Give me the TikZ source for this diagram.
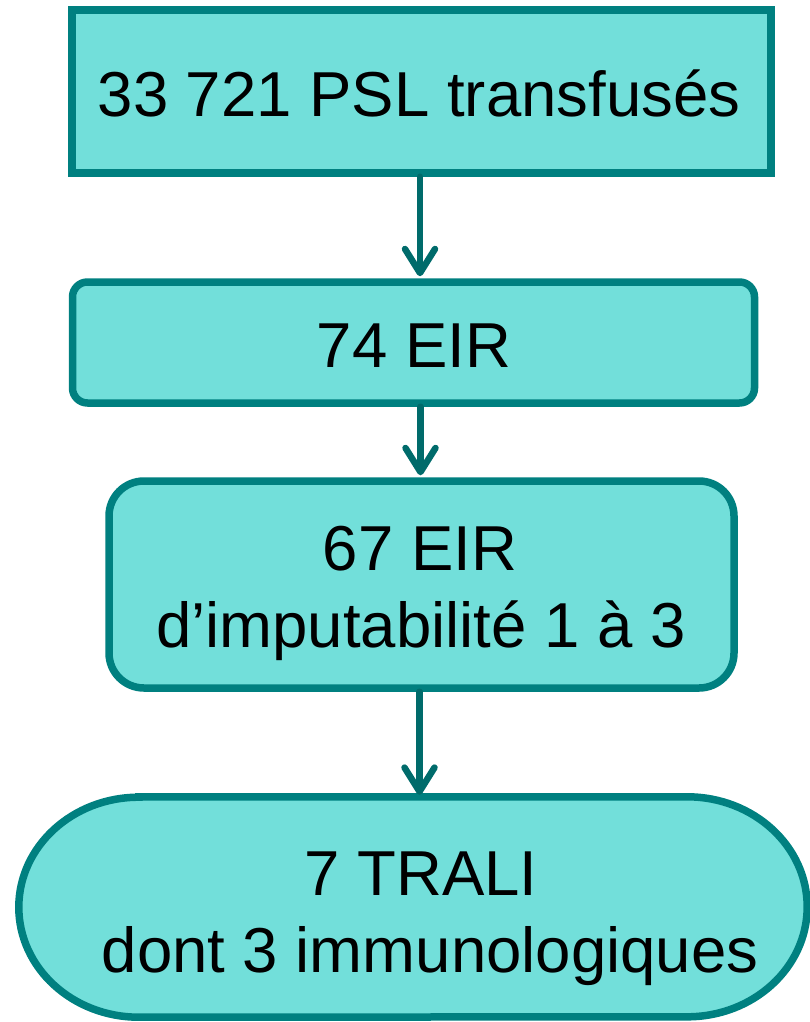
\documentclass[tikz,border=0pt]{standalone}
\usepackage{fontspec}
\setmainfont{Liberation Sans}
\usetikzlibrary{arrows.meta,calc}
\definecolor{boxfill}{HTML}{72DFDA}
\definecolor{boxline}{HTML}{008080}
\definecolor{arrline}{HTML}{006B6B}
\begin{document}
\begin{tikzpicture}[x=1pt,y=-1pt,
  box/.style={draw=boxline,fill=boxfill,line width=7.5pt,inner sep=0pt},
  txt/.style={anchor=base,inner sep=0pt,font=\fontsize{63.5}{76}\selectfont,text=black},
  arr/.style={draw=arrline,line width=6.5pt,line cap=round,
    -{Straight Barb[length=24pt,width=30pt,line cap=round,line join=round]}}]
\useasboundingbox (0,0) rectangle (810,1022);
% boxes
\node[box,minimum width=699pt,minimum height=163pt] (b1) at (421.5,91.5) {};
\node[box,rounded corners=15pt,minimum width=682pt,minimum height=121pt] (b2) at (413.5,342.5) {};
\node[box,rounded corners=35pt,minimum width=625pt,minimum height=207pt] (b3) at (421.5,584.5) {};
\node[inner sep=0pt,minimum width=788pt,minimum height=220pt] (b4) at (413,907) {};
\draw[box] ($(b4.north west)+(120,0)$) -- ($(b4.north east)+(-120,0)$)
  arc[start angle=90,end angle=-90,x radius=120pt,y radius=110pt]
  -- ($(b4.south west)+(120,0)$)
  arc[start angle=270,end angle=90,x radius=120pt,y radius=110pt] -- cycle;
% texts
\node[txt] (t1) at (419,117) {33 721 PSL transfusés};
\node[txt] (t2) at (414,367) {74 EIR};
\node[txt] (t3a) at (420,570) {67 EIR};
\node[txt] (t3b) at (421,647) {d’imputabilité 1 à 3};
\node[txt] (t4a) at (421,895) {7 TRALI};
\node[txt] (t4b) at (430,972) {dont 3 immunologiques};
% arrow anchors
\coordinate (a1) at ($(b1.south)+(-1.5,0)$);
\coordinate (a2) at ($(b2.south)+(7,0)$);
\coordinate (a3) at ($(b3.south)+(-2,0)$);
% arrows
\draw[arr,shorten >=2pt] (a1) -- (a1 |- b2.north);
\draw[arr,shorten >=2pt] (a2) -- (a2 |- b3.north);
\draw[arr,shorten >=2pt] (a3) -- (a3 |- b4.north);
\end{tikzpicture}
\end{document}
